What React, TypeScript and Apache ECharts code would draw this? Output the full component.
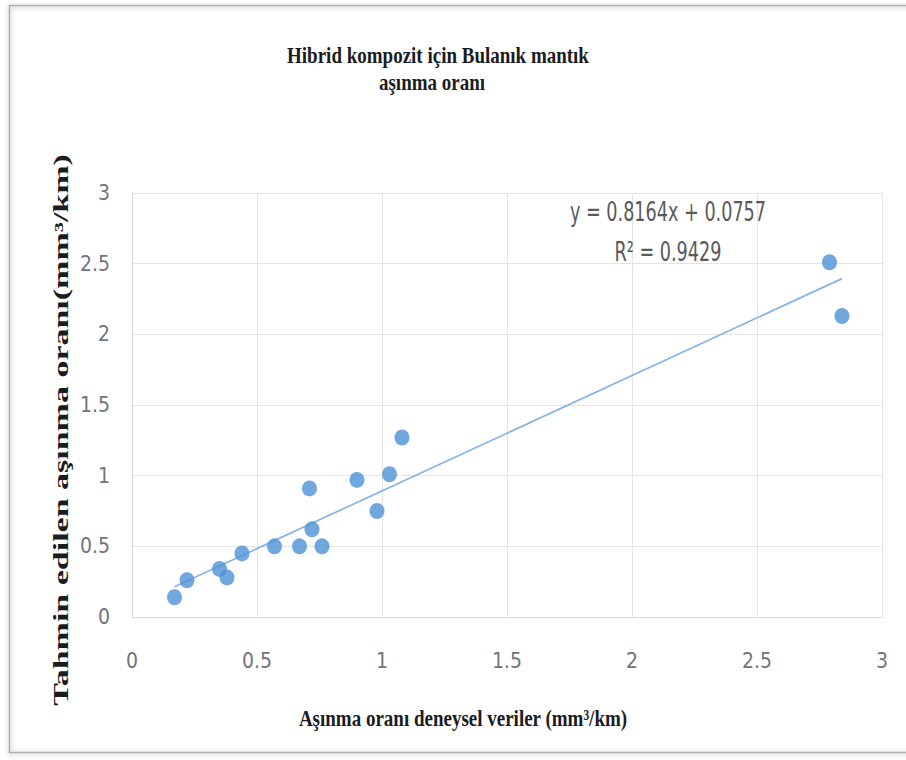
import React, { useEffect, useRef } from "react";
import * as echarts from "echarts";

// Experimental wear rate (mm³/km) and fuzzy-logic predicted wear rate (mm³/km)
const experimental = [0.17, 0.22, 0.35, 0.38, 0.44, 0.57, 0.67, 0.71, 0.72, 0.76, 0.9, 0.98, 1.03, 1.08, 2.79, 2.84];
const predicted = [0.14, 0.26, 0.34, 0.28, 0.45, 0.5, 0.5, 0.91, 0.62, 0.5, 0.97, 0.75, 1.01, 1.27, 2.51, 2.13];

// Linear trendline reported on the chart
const slope = 0.8164;
const intercept = 0.0757;
const rSquared = 0.9429;

const titleLines = ["Hibrid kompozit için Bulanık mantık", "aşınma oranı"];
const xTitle = "Aşınma oranı deneysel veriler (mm³/km)";
const yTitle = "Tahmin edilen aşınma oranı(mm³/km)";

const axisMin = 0;
const axisMax = 3;
const axisStep = 0.5;

const serif = '"Liberation Serif", "Times New Roman", serif';
const sans = '"DejaVu Sans Condensed", "Liberation Sans Narrow", Roboto, "Open Sans", sans-serif';

export default function App() {
  const ref = useRef<HTMLDivElement>(null);

  useEffect(() => {
    document.body.style.margin = "0";
    const chart = echarts.init(ref.current!, null, { renderer: "svg" });

    const points = experimental.map((x, i) => [x, predicted[i]]);
    const xLo = Math.min(...experimental);
    const xHi = Math.max(...experimental);
    const trend = [
      [xLo, slope * xLo + intercept],
      [xHi, slope * xHi + intercept],
    ];

    const serifText = (text: string, x: number, y: number, extra: any = {}) => ({
      type: "text",
      x,
      y,
      z: 10,
      scaleY: 1.25,
      ...extra,
      style: {
        text,
        fontFamily: serif,
        fontWeight: "bold",
        fontSize: 19,
        fill: "#1b1b22",
        align: "center",
        verticalAlign: "middle",
      },
    });

    const eqText = (text: string, x: number, y: number) => ({
      type: "text",
      x,
      y,
      z: 10,
      scaleX: 0.98,
      scaleY: 1.35,
      style: {
        text,
        fontFamily: sans,
        fontSize: 20,
        fill: "#5a5a5a",
        align: "center",
        verticalAlign: "middle",
      },
    });

    const tickLabel = (margin: number) => ({
      margin,
      fontSize: 21,
      color: "#6f757c",
      fontFamily: sans,
    });

    chart.setOption({
      animation: false,
      backgroundColor: "#ffffff",
      grid: { left: 132, top: 193, right: 24, bottom: 143 },
      xAxis: {
        type: "value",
        min: axisMin,
        max: axisMax,
        interval: axisStep,
        axisLine: { show: true, lineStyle: { color: "#d3dae2", width: 1 } },
        axisTick: { show: false },
        splitLine: { show: true, lineStyle: { color: "#e4e4e4", width: 1 } },
        axisLabel: tickLabel(33),
      },
      yAxis: {
        type: "value",
        min: axisMin,
        max: axisMax,
        interval: axisStep,
        axisLine: { show: true, lineStyle: { color: "#d3dae2", width: 1 } },
        axisTick: { show: false },
        splitLine: { show: true, lineStyle: { color: "#e4e4e4", width: 1 } },
        axisLabel: tickLabel(22),
      },
      series: [
        {
          type: "line",
          data: trend,
          symbol: "none",
          silent: true,
          z: 1,
          lineStyle: { color: "#86b4e2", width: 1.7 },
        },
        {
          type: "scatter",
          data: points,
          symbol: "circle",
          symbolSize: [15, 16],
          z: 2,
          itemStyle: { color: "#4d91d7" },
        },
      ],
      graphic: [
        {
          type: "rect",
          z: 0,
          shape: { x: 9.5, y: 5.5, width: 930, height: 747 },
          style: {
            fill: "none",
            stroke: "#adadad",
            lineWidth: 1.5,
            shadowBlur: 5,
            shadowColor: "rgba(0,0,0,0.35)",
            shadowOffsetY: 1,
          },
        },
        serifText(titleLines[0], 438, 55),
        serifText(titleLines[1], 432, 82),
        serifText(xTitle, 463, 718),
        {
          type: "text",
          x: 61,
          y: 430,
          z: 10,
          rotation: Math.PI / 2,
          scaleX: 1.7,
          scaleY: 1,
          style: {
            text: yTitle,
            fontFamily: serif,
            fontWeight: "bold",
            fontSize: 20,
            fill: "#1b1b22",
            align: "center",
            verticalAlign: "middle",
          },
        },
        eqText(`y = ${slope}x + ${intercept}`, 668, 212),
        eqText(`R² = ${rSquared}`, 668, 252),
      ],
    });

    return () => chart.dispose();
  }, []);

  return (
    <div
      ref={ref}
      style={{ position: "absolute", left: 0, top: 0, width: 906, height: 760, background: "#fff" }}
    />
  );
}
